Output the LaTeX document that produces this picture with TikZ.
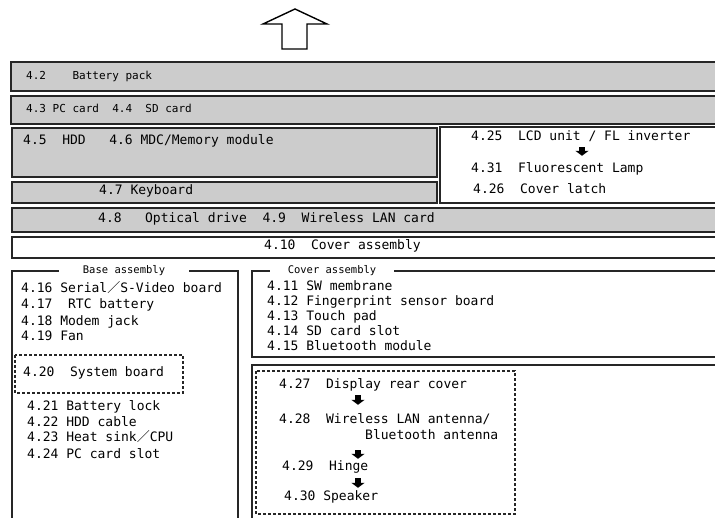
\documentclass[tikz,border=0pt]{standalone}
\usepackage{fontspec}
\newfontfamily\gothic{DejaVu Sans Mono}
\newfontfamily\cjk{Noto Sans CJK JP}
\usetikzlibrary{arrows.meta,positioning,calc}
\newcommand{\fw}{{\cjk ／}}

\begin{document}
\begin{tikzpicture}[x=1pt,y=-1pt,
  font=\gothic\fontsize{13}{15}\selectfont,
  graybox/.style={draw=black!85,line width=1.6pt,fill=black!20},
  whitebox/.style={draw=black!85,line width=1.6pt,fill=white},
  asmframe/.style={draw=black!85,line width=1.3pt},
  dotbox/.style={draw=black!85,line width=1.4pt,dash pattern=on 3pt off 2pt},
  item/.style={anchor=west,inner sep=1pt,text height=9pt,text depth=3pt},
  smalltext/.style={font=\gothic\fontsize{11}{13}\selectfont},
  frametitle/.style={font=\gothic\fontsize{10.5}{12}\selectfont,inner ysep=1pt},
  blk/.style={line width=5.5pt,-{Triangle[length=5pt,width=13pt]}}]
  \useasboundingbox (0,0) rectangle (715,518);
  \clip (0,0) rectangle (715,518);

  % removal direction
  \draw[line width=1.4pt,line join=miter] (282,49) -- (282,24) -- (263,24) -- (295,9) -- (327,24) -- (307,24) -- (307,49) -- cycle;

  % upper layers
  \draw[graybox] (11,62) rectangle (725,91);
  \node[item,smalltext] (n2) at (25,77) {4.2\ \ \ \ Battery pack};
  \draw[graybox] (11,96) rectangle (725,124);
  \node[item,smalltext] (n3) at (25,110) {4.3 PC card\ \ 4.4\ \ SD card};

  \draw[graybox] (12,128) rectangle (437,177);
  \node[item] (n5) at (22,142) {4.5\ \ HDD\ \ \ 4.6 MDC/Memory module};
  \draw[graybox] (12,182) rectangle (437,203);
  \node[item] (n7) at (98,192) {4.7 Keyboard};

  % LCD unit
  \draw[whitebox] (440,127) rectangle (725,203);
  \node[item] (n25) at (470,138) {4.25\ \ LCD unit / FL inverter};
  \node[item] (n31) at (470,170) {4.31\ \ Fluorescent Lamp};
  \node[item] (n26) at (472,191) {4.26\ \ Cover latch};
  \coordinate (ka) at (582,0);
  \draw[blk,shorten <=2pt,shorten >=7pt] (n25.south -| ka) -- (n31.north -| ka);

  \draw[graybox] (12,208) rectangle (725,232);
  \node[item] (n8) at (97,220) {4.8\ \ \ Optical drive\ \ 4.9\ \ Wireless LAN card};
  \draw[whitebox] (12,237) rectangle (725,258);
  \node[item] (n10) at (263,247) {4.10\ \ Cover assembly};

  % base assembly
  \node[frametitle,inner xsep=24pt] (base) at (124,271) {Base assembly};
  \draw[asmframe] (base.west) -- (12,271) -- (12,530);
  \draw[asmframe] (base.east) -- (238,271) -- (238,530);
  \node[item] (n16) at (20,290) {4.16 Serial\fw S-Video board};
  \node[item] (n17) at (20,306) {4.17\ \ RTC battery};
  \node[item] (n18) at (20,323) {4.18 Modem jack};
  \node[item] (n19) at (20,338) {4.19 Fan};
  \draw[dotbox] (15,355) rectangle (183,393);
  \node[item] (n20) at (22,374) {4.20\ \ System board};
  \node[item] (n21) at (26,408) {4.21 Battery lock};
  \node[item] (n22) at (26,424) {4.22 HDD cable};
  \node[item] (n23) at (26,439) {4.23 Heat sink\fw CPU};
  \node[item] (n24) at (26,455) {4.24 PC card slot};

  % cover assembly
  \node[frametitle,inner xsep=18pt] (cover) at (332,271) {Cover assembly};
  \draw[asmframe] (cover.west) -- (252,271) -- (252,357) -- (725,357);
  \draw[asmframe] (cover.east) -- (725,271);
  \node[item] (n11) at (266,288) {4.11 SW membrane};
  \node[item] (n12) at (266,303) {4.12 Fingerprint sensor board};
  \node[item] (n13) at (266,318) {4.13 Touch pad};
  \node[item] (n14) at (266,333) {4.14 SD card slot};
  \node[item] (n15) at (266,348) {4.15 Bluetooth module};

  % display parts
  \draw[whitebox] (252,365) rectangle (725,530);
  \draw[dotbox] (256,371) rectangle (515,514);
  \node[item] (n27) at (278,386) {4.27\ \ Display rear cover};
  \node[item] (n28) at (278,421) {4.28\ \ Wireless LAN antenna/};
  \node[item] (n28b) at (364,436) {Bluetooth antenna};
  \node[item] (n29) at (281,467) {4.29\ \ Hinge};
  \node[item] (n30) at (283,497) {4.30 Speaker};
  \coordinate (kb) at (358,0);
  \draw[blk,shorten <=2pt,shorten >=9pt] (n27.south -| kb) -- (n28.north -| kb);
  \draw[blk,shorten <=7pt,shorten >=1pt] (n28b.south -| kb) -- (n29.north -| kb);
  \draw[blk,shorten <=4pt,shorten >=2pt] (n29.south -| kb) -- (n30.north -| kb);
\end{tikzpicture}
\end{document}
